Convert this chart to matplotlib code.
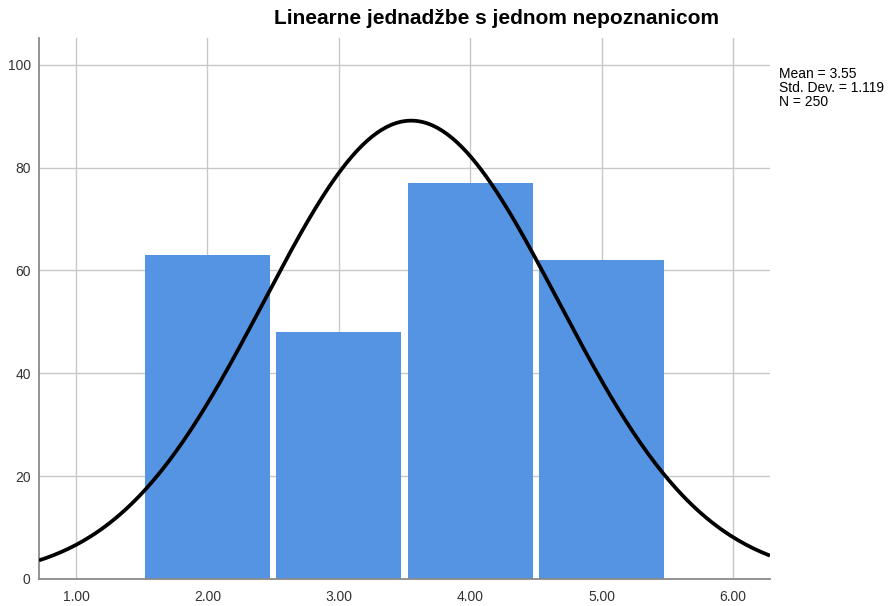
import matplotlib.pyplot as plt
import numpy as np

plt.rcParams['font.family'] = ['Liberation Sans', 'DejaVu Sans']

# histogram data (SPSS output)
bin_centers = [2.0, 3.0, 4.0, 5.0]
counts = [63, 48, 77, 62]
mean = 3.55
std = 1.119
n = 250
bin_width = 1.0

xticks = [1, 2, 3, 4, 5, 6]
xtick_labels = ['1.00', '2.00', '3.00', '4.00', '5.00', '6.00']
yticks = [0, 20, 40, 60, 80, 100]

fig = plt.figure(figsize=(8.91, 6.06), dpi=100)
ax = fig.add_axes([39/891, 1 - 579/606, (770-39)/891, (579-38)/606])

ax.bar(bin_centers, counts, width=0.95 * bin_width, color='#5594e2', linewidth=0, zorder=2)

# normal curve from the reported stats
x = np.linspace(0.718, 6.28, 300)
y = n * bin_width / (std * np.sqrt(2 * np.pi)) * np.exp(-0.5 * ((x - mean) / std) ** 2)
ax.plot(x, y, color='black', linewidth=2.7, zorder=3, solid_capstyle='butt')

ax.set_xlim(0.718, 6.28)
ax.set_ylim(0, 105.2)
ax.set_xticks(xticks)
ax.set_xticklabels(xtick_labels)
ax.set_yticks(yticks)
ax.grid(True, color='#c8c8c8', linewidth=1.0, zorder=0)
ax.set_axisbelow(True)
ax.tick_params(length=0, labelsize=10, colors='#333333')
ax.tick_params(axis='x', pad=8)
ax.tick_params(axis='y', pad=6)

ax.spines['top'].set_visible(False)
ax.spines['right'].set_visible(False)
ax.spines['left'].set_color('#8a8a8a')
ax.spines['bottom'].set_color('#8a8a8a')
ax.spines['left'].set_linewidth(1.3)
ax.spines['bottom'].set_linewidth(1.3)

fig.text(497/891, 1 - 19/606, 'Linearne jednadžbe s jednom nepoznanicom', ha='center', va='center',
         fontsize=15, fontweight='bold')
fig.text(779/891, 1 - 67/606, 'Mean = 3.55\nStd. Dev. = 1.119\nN = 250', ha='left', va='top',
         fontsize=10, linespacing=1.0)

fig.savefig('out.png', dpi=100)
